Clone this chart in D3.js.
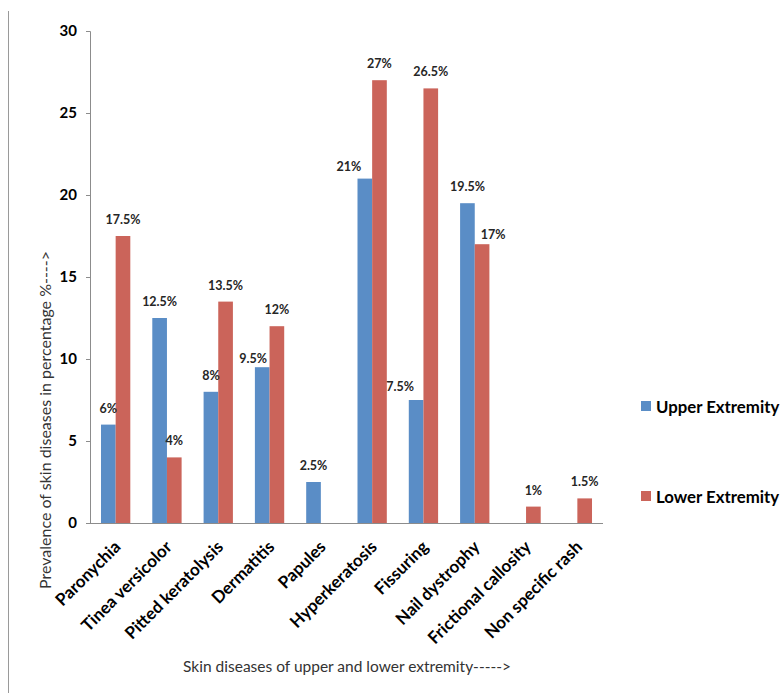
<!DOCTYPE html>
<html>
<head>
<meta charset="utf-8">
<script src="https://cdn.jsdelivr.net/npm/d3@7"></script>
<style>
  html, body { margin: 0; padding: 0; background: #fff; }
  svg { display: block; }
  text { font-family: Lato, "Open Sans", sans-serif; }
</style>
</head>
<body>
<svg id="chart" width="784" height="693"></svg>
<script>
const categories = ["Paronychia", "Tinea versicolor", "Pitted keratolysis", "Dermatitis", "Papules",
  "Hyperkeratosis", "Fissuring", "Nail dystrophy", "Frictional callosity", "Non specific rash"];
const upperExtremity = [6, 12.5, 8, 9.5, 2.5, 21, 7.5, 19.5, 0, 0];
const lowerExtremity = [17.5, 4, 13.5, 12, 0, 27, 26.5, 17, 1, 1.5];
const upperLabels = ["6%", "12.5%", "8%", "9.5%", "2.5%", "21%", "7.5%", "19.5%", "", ""];
const lowerLabels = ["17.5%", "4%", "13.5%", "12%", "", "27%", "26.5%", "17%", "1%", "1.5%"];
const seriesNames = ["Upper Extremity", "Lower Extremity"];
const yTicks = [0, 5, 10, 15, 20, 25, 30];
const xTitle = "Skin diseases of upper and lower extremity----->";
const yTitle = "Prevalence of skin diseases  in percentage %---->";

// label nudges (manual placements as in the reference)
const labelNudge = {
  "Upper Extremity|Dermatitis": [-9, 8],
  "Upper Extremity|Hyperkeratosis": [-16, 4],
  "Upper Extremity|Fissuring": [-16, 3],
  "Lower Extremity|Nail dystrophy": [11, 7]
};

const colors = ["#5A8DC6", "#CB645A"];
const svg = d3.select("#chart");
const m = { left: 90, right: 603, top: 31, bottom: 523 };

const x = d3.scaleBand().domain(categories).range([m.left, m.right]).paddingInner(0).paddingOuter(0);
const bw = x.bandwidth();
const barW = bw / 3.5;
const xs = d3.scaleBand().domain(seriesNames).range([(bw - 2 * barW) / 2, (bw - 2 * barW) / 2 + 2 * barW]);
const y = d3.scaleLinear().domain([0, 30]).range([m.bottom, m.top]);

// left frame line
svg.append("line").attr("x1", 8.5).attr("x2", 8.5).attr("y1", 11).attr("y2", 693)
  .attr("stroke", "#9a9a9a").attr("stroke-width", 1);

// bars
const series = [upperExtremity, lowerExtremity];
const labels = [upperLabels, lowerLabels];
series.forEach((vals, si) => {
  const g = svg.append("g");
  g.selectAll("rect").data(categories).join("rect")
    .attr("x", c => x(c) + xs(seriesNames[si]))
    .attr("y", (c, i) => y(vals[i]))
    .attr("width", xs.bandwidth())
    .attr("height", (c, i) => y(0) - y(vals[i]))
    .attr("fill", colors[si]);
});

// axes
const yAxis = d3.axisLeft(y).tickValues(yTicks).tickSize(4).tickPadding(9).tickFormat(d3.format("d"));
const ya = svg.append("g").attr("transform", `translate(${m.left},0)`).call(yAxis);
ya.select(".domain").attr("stroke", "#8c8c8c").attr("d", `M-4,${m.top}.5H0.5V${m.bottom}.5H-4`);
ya.selectAll(".tick line").attr("stroke", "#8c8c8c");
ya.selectAll(".tick text").attr("font-size", 15).attr("font-weight", "bold").attr("fill", "#000")
  .attr("font-family", "Lato, sans-serif");

const xAxis = d3.axisBottom(x).tickSize(0).tickPadding(0);
const xa = svg.append("g").attr("transform", `translate(0,${m.bottom})`).call(xAxis);
xa.select(".domain").attr("stroke", "#8c8c8c").attr("d", `M${m.left},0.5H${m.right}`);
xa.selectAll(".tick text")
  .attr("font-size", 17).attr("font-weight", "bold").attr("fill", "#000")
  .attr("font-family", "Lato, sans-serif")
  .attr("text-anchor", "end")
  .attr("dy", null)
  .attr("transform", "translate(6,25) rotate(-45)")
  .attr("x", 0).attr("y", 0);

// data labels
series.forEach((vals, si) => {
  svg.append("g").selectAll("text").data(categories).join("text")
    .filter((c, i) => labels[si][i] !== "")
    .attr("x", c => {
      const n = labelNudge[seriesNames[si] + "|" + c] || [0, 0];
      return x(c) + xs(seriesNames[si]) + xs.bandwidth() / 2 + n[0];
    })
    .attr("y", c => {
      const i = categories.indexOf(c);
      const n = labelNudge[seriesNames[si] + "|" + c] || [0, 0];
      return y(vals[i]) - 12 + n[1];
    })
    .attr("text-anchor", "middle")
    .attr("font-size", 12.5).attr("font-weight", "bold").attr("fill", "#262626")
    .text(c => labels[si][categories.indexOf(c)]);
});

// titles
svg.append("text").attr("x", 347).attr("y", 672).attr("text-anchor", "middle")
  .attr("font-size", 15.5).attr("fill", "#333").text(xTitle);
svg.append("text").attr("transform", "translate(51,420) rotate(-90)").attr("text-anchor", "middle")
  .attr("font-size", 16).attr("fill", "#333").text(yTitle);

// legend
const legendY = [401, 491];
seriesNames.forEach((s, i) => {
  svg.append("rect").attr("x", 641).attr("y", legendY[i]).attr("width", 10).attr("height", 10).attr("fill", colors[i]);
  svg.append("text").attr("x", 656).attr("y", legendY[i] + 11.5)
    .attr("font-size", 16.8).attr("font-weight", "bold").attr("fill", "#000").text(s);
});
</script>
</body>
</html>
